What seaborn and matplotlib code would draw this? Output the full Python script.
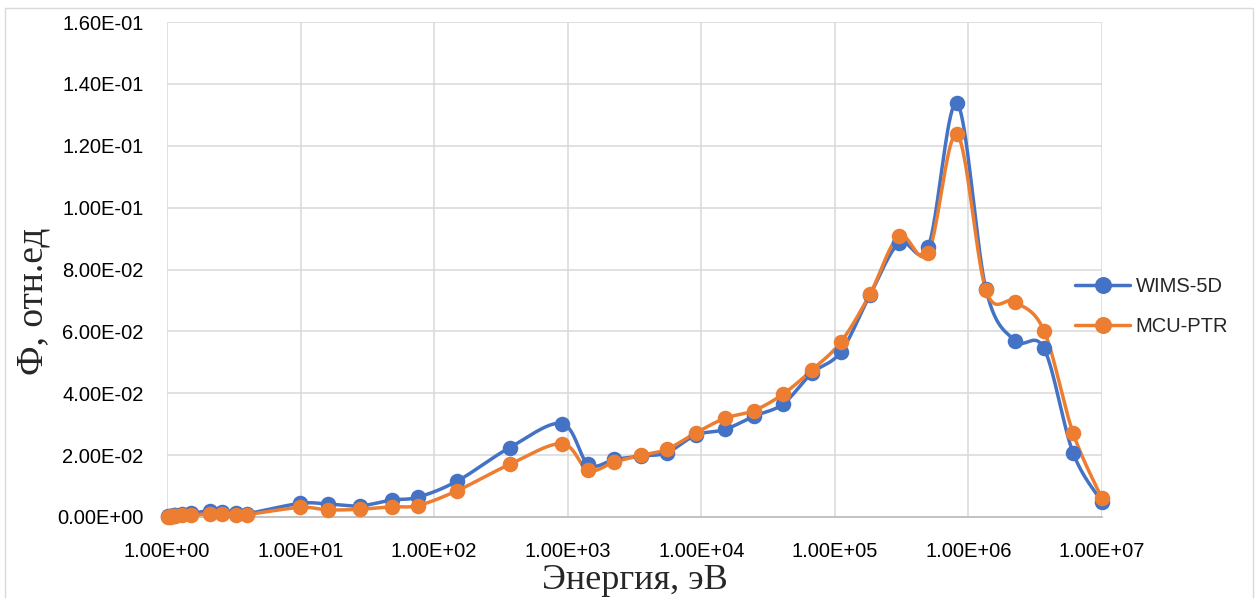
import numpy as np
import pandas as pd
import matplotlib
matplotlib.use("Agg")
import matplotlib.pyplot as plt
from matplotlib.lines import Line2D
from matplotlib.patches import Rectangle
import seaborn as sns

# ---------------- data ----------------
energy = [1.02, 1.045, 1.071, 1.097, 1.123, 1.15, 1.3, 1.5, 2.1, 2.6, 3.3, 4.0,
          9.877, 15.968, 27.7, 48.052, 75.5014, 148.728, 367.262, 906.898,
          1425.1, 2239.45, 3519.1, 5530.0, 9118.0, 15030.0, 24780.0, 40850.0,
          67340.0, 111000.0, 183000.0, 302500.0, 500000.0, 821000.0,
          1353000.0, 2231000.0, 3679000.0, 6065500.0, 10000000.0]
wims = [0.0002, 0.0002, 0.0003, 0.0004, 0.0005, 0.0006, 0.0009, 0.0012, 0.0020, 0.0017, 0.0014, 0.0011,
        0.0044, 0.0042, 0.0036, 0.0055, 0.0064, 0.0116, 0.0224, 0.0302,
        0.0170, 0.0186, 0.0197, 0.0208, 0.0265, 0.0283, 0.0326, 0.0365,
        0.0465, 0.0534, 0.0717, 0.0886, 0.0873, 0.1337,
        0.0736, 0.0570, 0.0545, 0.0208, 0.0049]
mcu = [0.0001, 0.0001, 0.0002, 0.0002, 0.0003, 0.0003, 0.0005, 0.0007, 0.0010, 0.0009, 0.0008, 0.0008,
       0.0031, 0.0023, 0.0025, 0.0033, 0.0037, 0.0085, 0.0170, 0.0237,
       0.0151, 0.0178, 0.0199, 0.0219, 0.0272, 0.0319, 0.0344, 0.0397,
       0.0475, 0.0566, 0.0720, 0.0908, 0.0854, 0.1237,
       0.0733, 0.0696, 0.0602, 0.0272, 0.0060]
series_names = ["WIMS-5D", "MCU-PTR"]
colors = ["#4472C4", "#ED7D31"]
x_ticks = [1e0, 1e1, 1e2, 1e3, 1e4, 1e5, 1e6, 1e7]
y_ticks = [0.0, 0.02, 0.04, 0.06, 0.08, 0.10, 0.12, 0.14, 0.16]

# ---------------- smoothing (Excel-like Bezier in screen space) ----------------
SX = 133.6            # px per decade
SY = 61.9 / 0.02      # px per unit


def smooth(xs, ys, n=40):
    P = np.column_stack([np.log10(xs) * SX, np.asarray(ys) * SY])
    out = []
    for i in range(len(P) - 1):
        p0 = P[i - 1] if i > 0 else P[i]
        p1, p2 = P[i], P[i + 1]
        p3 = P[i + 2] if i + 2 < len(P) else P[i + 1]
        c1 = p1 + (p2 - p0) / 6.0
        c2 = p2 - (p3 - p1) / 6.0
        t = np.linspace(0, 1, n, endpoint=False)[:, None]
        seg = (1 - t) ** 3 * p1 + 3 * (1 - t) ** 2 * t * c1 + 3 * (1 - t) * t ** 2 * c2 + t ** 3 * p2
        out.append(seg)
    out.append(P[-1:])
    Q = np.vstack(out)
    return 10 ** (Q[:, 0] / SX), Q[:, 1] / SY


sns.set_style("white")
plt.rcParams["font.family"] = ["Liberation Sans", "DejaVu Sans"]

W, H = 1259, 598
fig = plt.figure(figsize=(W / 100, H / 100), dpi=100)
ax = fig.add_axes([167 / W, 1 - 517 / H, (1102 - 167) / W, (517 - 22) / H])

for name, vals, col in zip(series_names, [wims, mcu], colors):
    sx, sy = smooth(energy, vals)
    df_s = pd.DataFrame({"E": sx, "F": sy})
    sns.lineplot(data=df_s, x="E", y="F", ax=ax, color=col, lw=2.5,
                 sort=False, estimator=None, clip_on=False, zorder=3)
    df_p = pd.DataFrame({"E": energy, "F": vals})
    sns.scatterplot(data=df_p, x="E", y="F", ax=ax, color=col, s=125,
                    edgecolor=col, linewidth=0, clip_on=False, zorder=4)

ax.set_xscale("log")
ax.set_xlim(1, 1e7)
ax.set_ylim(0, 0.16)
ax.set_xticks(x_ticks)
ax.set_xticklabels([f"{v:.2E}" for v in x_ticks])
ax.set_yticks(y_ticks)
ax.set_yticklabels([f"{v:.2E}" for v in y_ticks])
ax.xaxis.set_minor_locator(matplotlib.ticker.NullLocator())
ax.tick_params(axis="both", length=0, labelsize=14.5, colors="black")
ax.tick_params(axis="x", pad=18)
ax.tick_params(axis="y", pad=17)
ax.grid(True, which="major", color="#d9d9d9", lw=1.1)
ax.set_axisbelow(True)
for s in ["top", "right", "left"]:
    ax.spines[s].set_visible(False)
ax.spines["bottom"].set_color("#bfbfbf")
ax.spines["bottom"].set_linewidth(1.3)
ax.set_xlabel("")
ax.set_ylabel("")

# axis titles
fig.text(634.5 / W, 1 - 589 / H, "Энергия, эВ", ha="center", va="baseline",
         fontsize=26, family=["Liberation Serif", "DejaVu Serif"])
fig.text(33 / W, 1 - 301 / H, "Ф, отн.ед", ha="center", va="center", rotation=90,
         fontsize=27, family=["Liberation Serif", "DejaVu Serif"])

# legend
handles = [Line2D([0], [0], color=c, lw=2.5, marker="o", markersize=11.2) for c in colors]
fig.legend(handles, series_names, loc="center left",
           bbox_to_anchor=(1075 / W, 1 - 306.5 / H), bbox_transform=fig.transFigure,
           frameon=False, fontsize=14.5, handlelength=2.75, handletextpad=0.25,
           labelspacing=1.0, borderpad=0, borderaxespad=0)

# outer chart border
fig.add_artist(Rectangle((5 / W, -0.05), (1253 - 5) / W, 1 - 8 / H + 0.05,
                         transform=fig.transFigure, fill=False,
                         edgecolor="#d9d9d9", lw=1.0))

fig.savefig("out.png", dpi=100)
